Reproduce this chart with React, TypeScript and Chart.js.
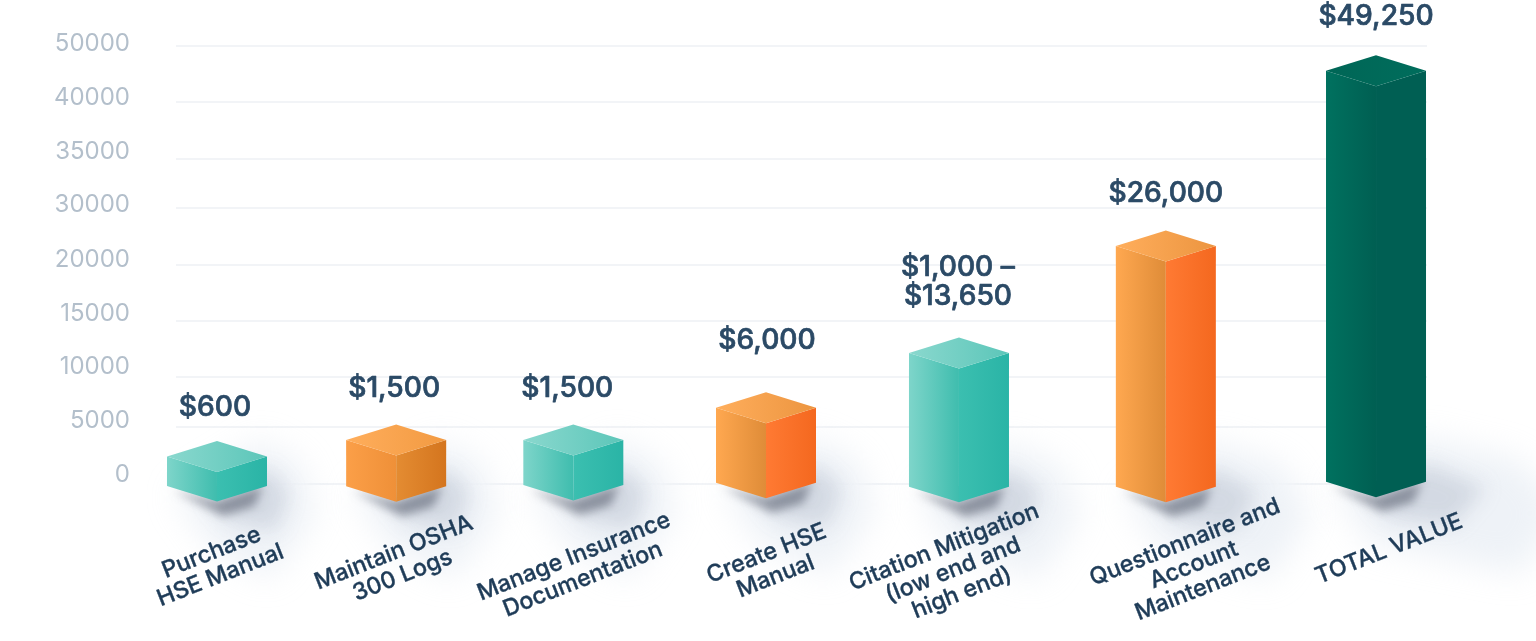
import React, { useEffect, useRef } from "react";
import { Chart, registerables } from "chart.js";

Chart.register(...registerables);

const categories = [
  ["Purchase", "HSE Manual"],
  ["Maintain OSHA", "300 Logs"],
  ["Manage Insurance", "Documentation"],
  ["Create HSE", "Manual"],
  ["Citation Mitigation", "(low end and", "high end)"],
  ["Questionnaire and", "Account", "Maintenance"],
  ["TOTAL VALUE"],
];
const valueLabels = [["$600"], ["$1,500"], ["$1,500"], ["$6,000"], ["$1,000 –", "$13,650"], ["$26,000"], ["$49,250"]];
// top and foot of every block, read against the drawn axis
const barTops = [3140, 5020, 5020, 8710, 14950, 27170, 47180];
const barFeet = [-230, -250, -120, 150, -300, -300, 260];
// the picture's axis labels are evenly spaced although the numbers are not
const yTickValues = [0, 6507, 12215, 18607, 25000, 31507, 37100, 43607, 50000];
const yTickLabels = ["0", "5000", "10000", "15000", "20000", "30000", "35000", "40000", "50000"];

const TEAL = { top: ["#8ad8ce", "#5cc6b9"], left: ["#7ed5ca", "#3fbdae"], right: ["#3bbfb0", "#2ab4a6"] };
const ORANGE_DARK = { top: ["#ffae5c", "#f29a42"], left: ["#fb9f48", "#ef9038"], right: ["#e48c32", "#d4751e"] };
const ORANGE = { top: ["#ffae5c", "#ec9540"], left: ["#ffa850", "#df8c38"], right: ["#ff7a33", "#f4681f"] };
const GREEN = { top: ["#006656", "#006d5c"], left: ["#00715f", "#005f52"], right: ["#005f53", "#005f53"] };
const barStyles = [TEAL, ORANGE_DARK, TEAL, ORANGE, TEAL, ORANGE, GREEN];

const barShift = [0, -14, -30, -30.5, -30.7, -17, 0];
const labelShift = [-1, 2, 5, 5, -6, 28, 13];
const labelCentre = [564, 564, 568, 565, 570, 565, 549];
const valueShift = [-2, -2, -6, 1, -1, 0, 0];
const valueLift = [49, 52, 52, 67, 57, 52, 54];
const yLabelLift = [9, 6, 10, 7, 5, 3, 7, 4, 2];
const GRID_LEFT = 176;
const GRID_RIGHT = 1427;
const FONT = "Inter, 'Noto Sans', sans-serif";

const poly = (ctx: CanvasRenderingContext2D, pts: number[][]) => {
  ctx.beginPath();
  pts.forEach((p, i) => (i ? ctx.lineTo(p[0], p[1]) : ctx.moveTo(p[0], p[1])));
  ctx.closePath();
};

const face = (ctx: CanvasRenderingContext2D, pts: number[][], colors: string[]) => {
  const xs = pts.map((p) => p[0]);
  const g = ctx.createLinearGradient(Math.min(...xs), 0, Math.max(...xs), 0);
  g.addColorStop(0, colors[0]);
  g.addColorStop(1, colors[1]);
  poly(ctx, pts);
  ctx.fillStyle = g;
  ctx.fill();
};

const boldText = (ctx: CanvasRenderingContext2D, text: string, x: number, y: number, weight: number) => {
  ctx.lineWidth = weight;
  ctx.lineJoin = "round";
  ctx.strokeStyle = ctx.fillStyle as string;
  ctx.strokeText(text, x, y);
  ctx.fillText(text, x, y);
};

const cubePlugin = {
  id: "cubes",
  beforeDatasetsDraw(chart: any) {
    const ctx: CanvasRenderingContext2D = chart.ctx;
    const y = chart.scales.y;
    ctx.save();
    ctx.strokeStyle = "#eef1f5";
    ctx.lineWidth = 1.6;
    y.ticks.forEach((t: any) => {
      const py = y.getPixelForValue(t.value);
      ctx.beginPath();
      ctx.moveTo(GRID_LEFT, py);
      ctx.lineTo(GRID_RIGHT, py);
      ctx.stroke();
    });
    ctx.fillStyle = "#b3bfcb";
    ctx.font = `400 24px ${FONT}`;
    ctx.textAlign = "right";
    ctx.textBaseline = "middle";
    y.ticks.forEach((t: any, i: number) => {
      ctx.fillText(yTickLabels[i], 130, y.getPixelForValue(t.value) - yLabelLift[i]);
    });
    ctx.restore();
  },
  afterDatasetsDraw(chart: any) {
    const ctx: CanvasRenderingContext2D = chart.ctx;
    const els = chart.getDatasetMeta(0).data;
    const geo = els.map((el: any, i: number) => {
      const hw = el.width / 2;
      const cx = el.x + barShift[i];
      return { cx, hw, top: el.y, foot: el.base, h: el.base - el.y };
    });

    ctx.save();
    geo.forEach((g: any) => {
      const L = 42 + 0.22 * g.h;
      const r = g.cx + g.hw;
      const far = [
        [r - 6, g.foot - 45],
        [r + L * 0.7, g.foot - 22],
        [r + L, g.foot + 28],
        [g.cx + L * 1.1, g.foot + 92],
        [g.cx - 4, g.foot + 62],
        [g.cx - g.hw + 8, g.foot + 8],
      ];
      ctx.filter = "blur(9px)";
      poly(ctx, far);
      ctx.fillStyle = "rgba(255,255,255,0.9)";
      ctx.fill();
      ctx.filter = "blur(16px)";
      poly(ctx, far);
      ctx.fillStyle = "rgba(205,217,232,0.34)";
      ctx.fill();
      ctx.filter = "blur(10px)";
      poly(ctx, [
        [g.cx - 10, g.foot + 10],
        [r, g.foot - 18],
        [r + L * 0.45, g.foot + 6],
        [g.cx + g.hw + L * 0.2, g.foot + 44],
        [g.cx + 12, g.foot + 36],
      ]);
      ctx.fillStyle = "rgba(125,140,162,0.24)";
      ctx.fill();
      ctx.filter = "blur(5px)";
      poly(ctx, [
        [g.cx - g.hw + 6, g.foot + 4],
        [g.cx, g.foot + 15],
        [r - 4, g.foot],
        [g.cx + g.hw * 0.75, g.foot + 20],
        [g.cx + 6, g.foot + 30],
      ]);
      ctx.fillStyle = "rgba(50,58,76,0.45)";
      ctx.fill();
    });
    ctx.filter = "none";

    geo.forEach((g: any, i: number) => {
      const s = barStyles[i];
      const { cx, hw, top, foot } = g;
      const dip = 15.5;
      face(ctx, [[cx - hw, top], [cx, top + dip], [cx, foot + dip], [cx - hw, foot]], s.left);
      face(ctx, [[cx, top + dip], [cx + hw, top], [cx + hw, foot], [cx, foot + dip]], s.right);
      face(ctx, [[cx - hw, top], [cx, top - dip], [cx + hw, top], [cx, top + dip]], s.top);
    });

    ctx.textAlign = "center";
    ctx.textBaseline = "middle";
    ctx.fillStyle = "#2b4a66";
    ctx.font = `500 28.2px ${FONT}`;
    geo.forEach((g: any, i: number) => {
      const lines = valueLabels[i];
      lines.forEach((line, k) => {
        boldText(ctx, line, g.cx + valueShift[i], g.top - valueLift[i] - (lines.length - 1 - k) * 29, 0.7);
      });
    });

    ctx.fillStyle = "#1f3c58";
    ctx.font = `500 23.2px ${FONT}`;
    geo.forEach((g: any, i: number) => {
      const lines = categories[i];
      ctx.save();
      ctx.translate(g.cx + labelShift[i], labelCentre[i]);
      ctx.rotate((-21.5 * Math.PI) / 180);
      lines.forEach((line, k) => boldText(ctx, line, 0, (k - (lines.length - 1) / 2) * 24.5, 0.35));
      ctx.restore();
    });
    ctx.restore();
  },
};

export default function App() {
  const ref = useRef<HTMLCanvasElement>(null);
  useEffect(() => {
    const chart = new Chart(ref.current as HTMLCanvasElement, {
      type: "bar",
      data: {
        labels: categories,
        datasets: [
          {
            data: barTops.map((t, i) => [barFeet[i], t]),
            backgroundColor: "rgba(0,0,0,0)",
            borderWidth: 0,
            categoryPercentage: 1,
            barPercentage: 0.5177,
          },
        ],
      },
      options: {
        responsive: false,
        animation: false,
        devicePixelRatio: 1,
        layout: { padding: { left: 112.4, right: 63.4, top: 46, bottom: 149 } },
        plugins: { legend: { display: false }, tooltip: { enabled: false }, title: { display: false } },
        scales: {
          x: {
            offset: true,
            grid: { display: false },
            border: { display: false },
            ticks: { display: false },
          },
          y: {
            min: 0,
            max: 50000,
            grid: { display: false },
            border: { display: false },
            ticks: { display: false },
            afterBuildTicks: (scale: any) => {
              scale.ticks = yTickValues.map((value) => ({ value }));
            },
          },
        },
      },
      plugins: [cubePlugin],
    } as any);
    return () => chart.destroy();
  }, []);
  return (
    <div style={{ position: "fixed", left: 0, top: 0, width: 1536, height: 641, background: "#fff" }}>
      <canvas ref={ref} width={1536} height={641} style={{ display: "block" }} />
    </div>
  );
}
